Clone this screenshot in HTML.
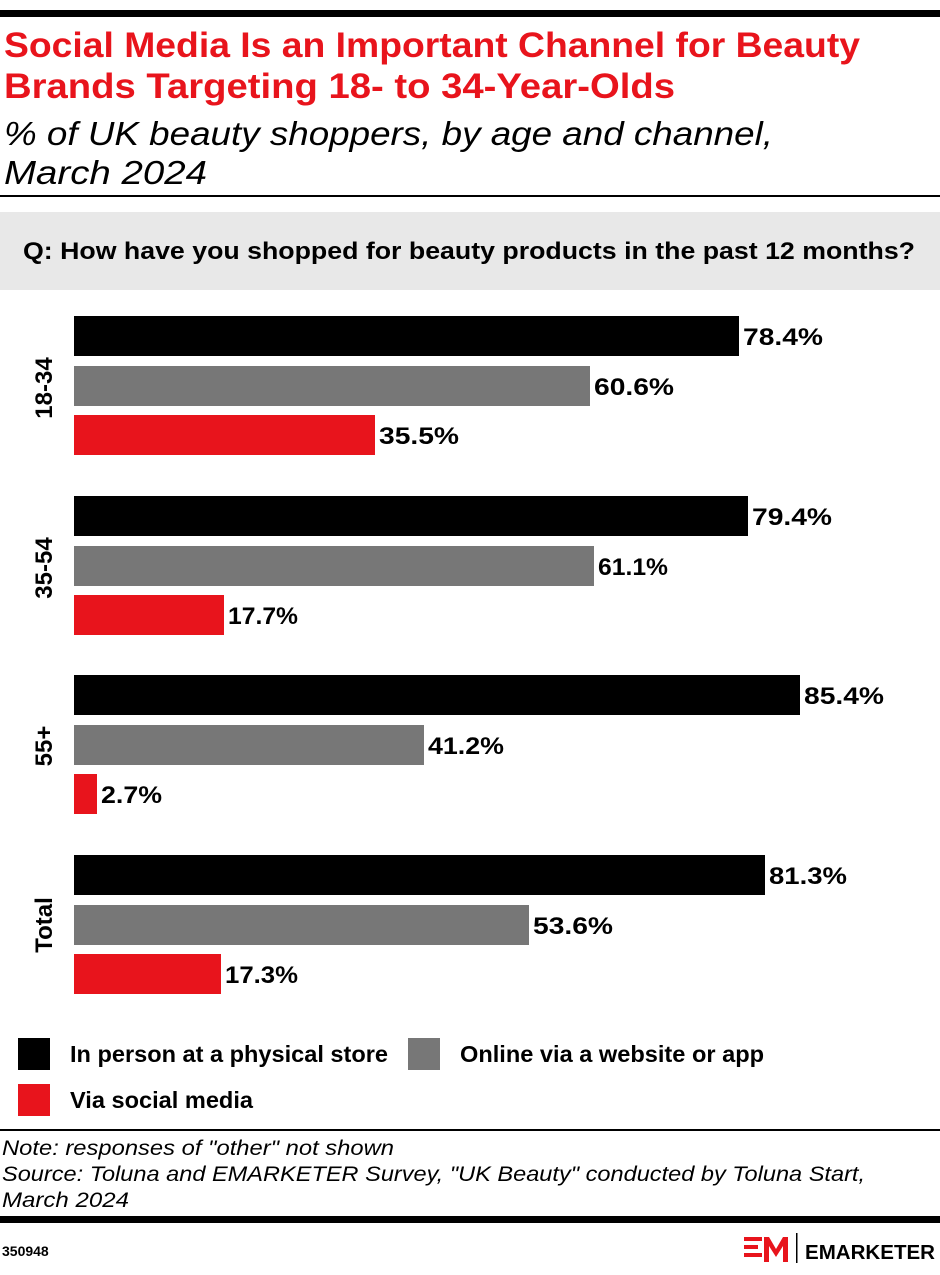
<!DOCTYPE html>
<html><head><meta charset="utf-8"><style>
body{margin:0;width:940px;height:1270px;background:#fff;overflow:hidden}
svg text{font-family:"Liberation Sans",sans-serif}
</style></head><body>
<svg width="940" height="1270" xmlns="http://www.w3.org/2000/svg">
<rect x="0" y="10" width="940" height="7" fill="#000"/>
<text x="4" y="57" font-size="35" font-weight="bold" fill="#e8141c" textLength="856" lengthAdjust="spacingAndGlyphs">Social Media Is an Important Channel for Beauty</text>
<text x="4" y="98" font-size="35" font-weight="bold" fill="#e8141c" textLength="671" lengthAdjust="spacingAndGlyphs">Brands Targeting 18- to 34-Year-Olds</text>
<text x="4" y="145" font-size="33" font-style="italic" fill="#000" textLength="769" lengthAdjust="spacingAndGlyphs">% of UK beauty shoppers, by age and channel,</text>
<text x="4" y="184" font-size="33" font-style="italic" fill="#000" textLength="203" lengthAdjust="spacingAndGlyphs">March 2024</text>
<rect x="0" y="195" width="940" height="2" fill="#000"/>
<rect x="0" y="212" width="940" height="78" fill="#e8e8e8"/>
<text x="23" y="259" font-size="24" font-weight="bold" textLength="892" lengthAdjust="spacingAndGlyphs">Q: How have you shopped for beauty products in the past 12 months?</text>
<g font-size="24" font-weight="bold">
<rect x="74" y="316" width="665" height="40" fill="#000"/><text x="743" y="345" textLength="80" lengthAdjust="spacingAndGlyphs">78.4%</text>
<rect x="74" y="366" width="516" height="40" fill="#777"/><text x="594" y="395" textLength="80" lengthAdjust="spacingAndGlyphs">60.6%</text>
<rect x="74" y="415" width="301" height="40" fill="#e8141c"/><text x="379" y="444" textLength="80" lengthAdjust="spacingAndGlyphs">35.5%</text>

<rect x="74" y="496" width="674" height="40" fill="#000"/><text x="752" y="525" textLength="80" lengthAdjust="spacingAndGlyphs">79.4%</text>
<rect x="74" y="546" width="520" height="40" fill="#777"/><text x="598" y="575" textLength="70" lengthAdjust="spacingAndGlyphs">61.1%</text>
<rect x="74" y="595" width="150" height="40" fill="#e8141c"/><text x="228" y="624" textLength="70" lengthAdjust="spacingAndGlyphs">17.7%</text>

<rect x="74" y="675" width="726" height="40" fill="#000"/><text x="804" y="704" textLength="80" lengthAdjust="spacingAndGlyphs">85.4%</text>
<rect x="74" y="725" width="350" height="40" fill="#777"/><text x="428" y="754" textLength="76" lengthAdjust="spacingAndGlyphs">41.2%</text>
<rect x="74" y="774" width="23" height="40" fill="#e8141c"/><text x="101" y="803" textLength="61" lengthAdjust="spacingAndGlyphs">2.7%</text>

<rect x="74" y="855" width="691" height="40" fill="#000"/><text x="769" y="884" textLength="78" lengthAdjust="spacingAndGlyphs">81.3%</text>
<rect x="74" y="905" width="455" height="40" fill="#777"/><text x="533" y="934" textLength="80" lengthAdjust="spacingAndGlyphs">53.6%</text>
<rect x="74" y="954" width="147" height="40" fill="#e8141c"/><text x="225" y="983" textLength="73" lengthAdjust="spacingAndGlyphs">17.3%</text>
<text transform="translate(52,388) rotate(-90)" text-anchor="middle">18-34</text>
<text transform="translate(52,568) rotate(-90)" text-anchor="middle">35-54</text>
<text transform="translate(52,746) rotate(-90)" text-anchor="middle">55+</text>
<text transform="translate(52,925) rotate(-90)" text-anchor="middle">Total</text>
</g>
<g font-size="23" font-weight="bold">
<rect x="18" y="1038" width="32" height="32" fill="#000"/><text x="70" y="1062" textLength="318" lengthAdjust="spacingAndGlyphs">In person at a physical store</text>
<rect x="408" y="1038" width="32" height="32" fill="#777"/><text x="460" y="1062" textLength="304" lengthAdjust="spacingAndGlyphs">Online via a website or app</text>
<rect x="18" y="1084" width="32" height="32" fill="#e8141c"/><text x="70" y="1108" textLength="183" lengthAdjust="spacingAndGlyphs">Via social media</text>
</g>
<rect x="0" y="1129" width="940" height="2" fill="#000"/>
<g font-size="21" font-style="italic">
<text x="2" y="1155" textLength="392" lengthAdjust="spacingAndGlyphs">Note: responses of "other" not shown</text>
<text x="2" y="1181" textLength="863" lengthAdjust="spacingAndGlyphs">Source: Toluna and EMARKETER Survey, "UK Beauty" conducted by Toluna Start,</text>
<text x="2" y="1207" textLength="127" lengthAdjust="spacingAndGlyphs">March 2024</text>
</g>
<rect x="0" y="1216" width="940" height="7" fill="#000"/>
<text x="2" y="1256" font-size="14" font-weight="bold">350948</text>
<g fill="#e8141c">
<rect x="744" y="1237" width="18" height="4"/><rect x="744" y="1245" width="14" height="4"/><rect x="744" y="1253" width="18" height="4"/>
<polygon points="764,1237 769,1237 776,1249 783,1237 788,1237 788,1262 783,1262 783,1246 776,1257 769,1246 769,1262 764,1262"/>
</g>
<rect x="796" y="1233" width="1.5" height="30" fill="#000"/>
<text x="805" y="1259" font-size="20" font-weight="bold" textLength="130" lengthAdjust="spacingAndGlyphs">EMARKETER</text>
</svg>
</body></html>
